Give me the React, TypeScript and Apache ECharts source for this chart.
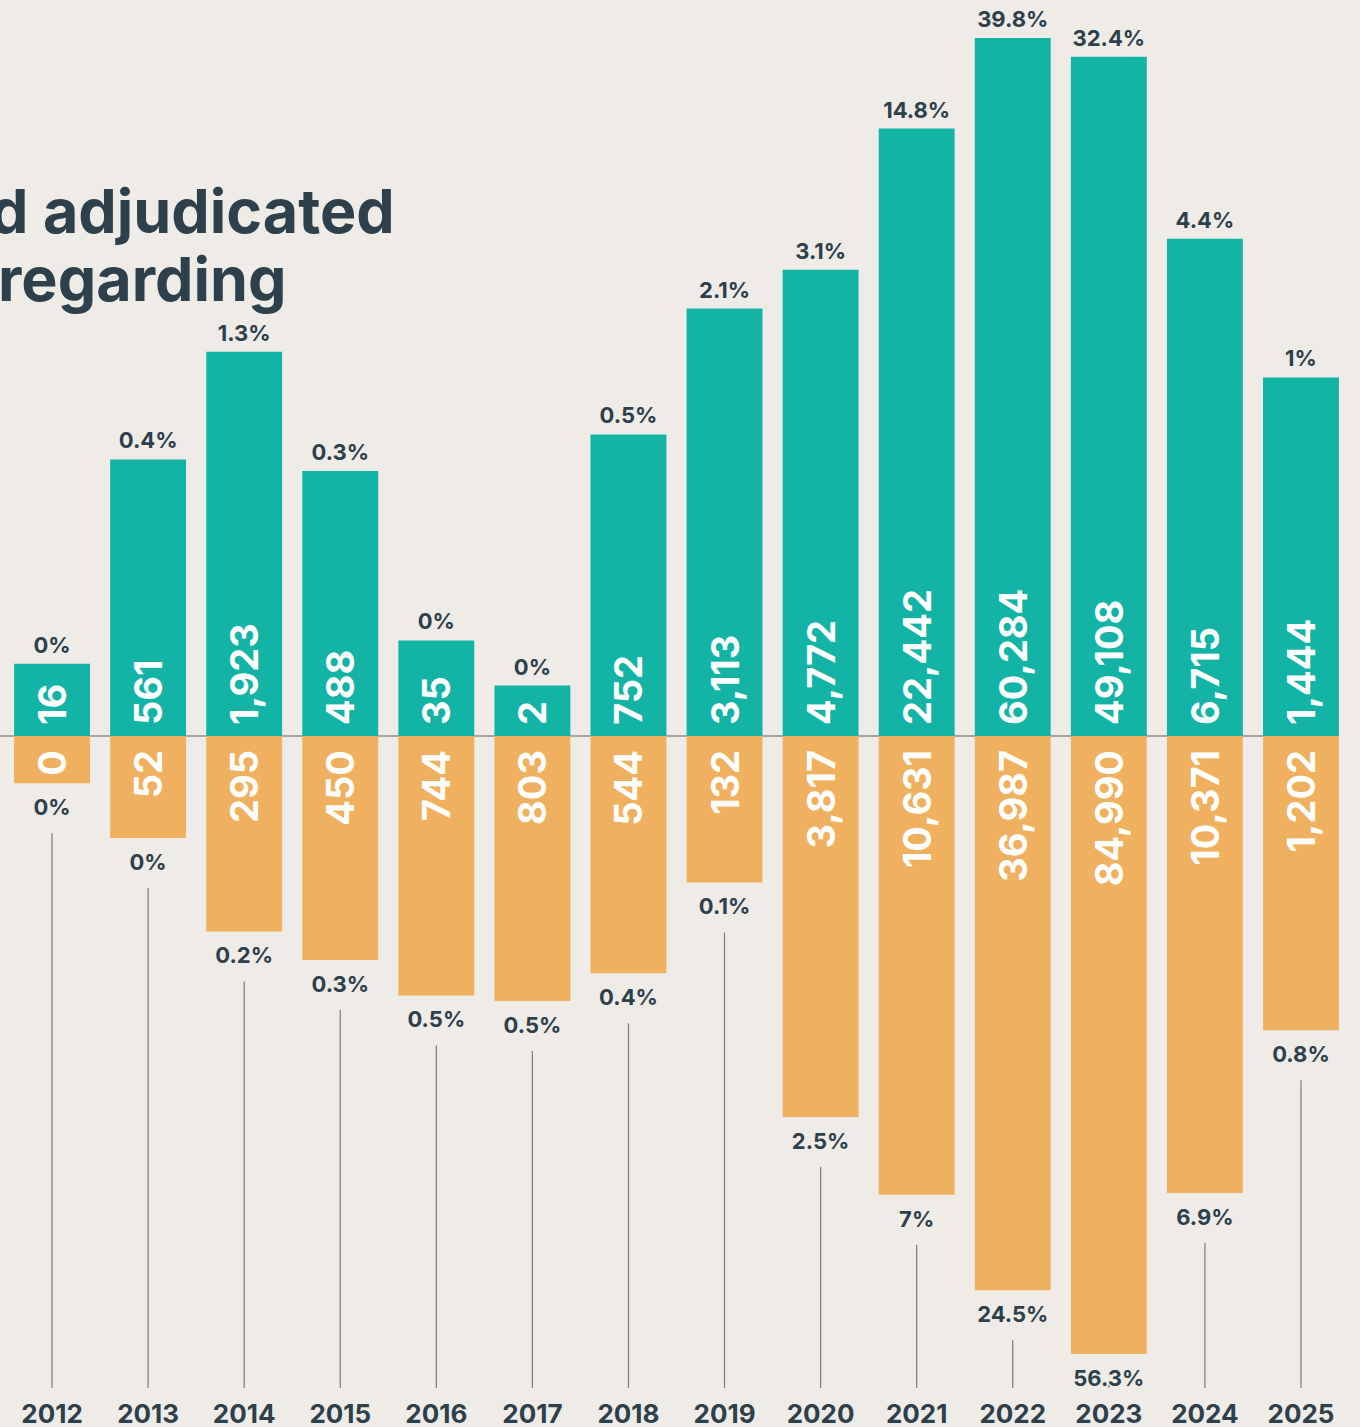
import React, { useEffect, useRef } from "react";
import * as echarts from "echarts";

// ---- data ----
const years = ["2012", "2013", "2014", "2015", "2016", "2017", "2018", "2019", "2020", "2021", "2022", "2023", "2024", "2025"];
const tealValues = [16, 561, 1923, 488, 35, 2, 752, 3113, 4772, 22442, 60284, 49108, 6715, 1444];
const tealPct = [0, 0.4, 1.3, 0.3, 0, 0, 0.5, 2.1, 3.1, 14.8, 39.8, 32.4, 4.4, 1];
const orangeValues = [0, 52, 295, 450, 744, 803, 544, 132, 3817, 10631, 36987, 84990, 10371, 1202];
const orangePct = [0, 0, 0.2, 0.3, 0.5, 0.5, 0.4, 0.1, 2.5, 7, 24.5, 56.3, 6.9, 0.8];
const titleLines = ["d adjudicated", "regarding"];

// pseudo-count for the shifted log scale, so that a zero can still be drawn
const OFFSET = 50;

// ---- styles ----
const BG = "#efece8";
const TEAL = "#13b3a6";
const ORANGE = "#efb15f";
const DARK = "#2d404b";
const FONT = "Inter, 'Noto Sans', sans-serif";
const BAR_RATIO = 0.79;

const fmt = (v: number) => v.toLocaleString("en-US");

export default function App() {
  const ref = useRef<HTMLDivElement>(null);

  useEffect(() => {
    if (!ref.current) return;
    const chart = echarts.init(ref.current, undefined, { renderer: "svg" });

    const tealItem = (params: any, api: any) => {
      const i = params.dataIndex;
      const cs = params.coordSys;
      const top = api.coord([api.value(0), api.value(1)]);
      const baseY = cs.y + cs.height;
      const w = (cs.width / years.length) * BAR_RATIO;
      const cx = top[0];
      return {
        type: "group",
        children: [
          { type: "rect", shape: { x: cx - w / 2, y: top[1], width: w, height: baseY - top[1] }, style: { fill: TEAL } },
          {
            type: "text",
            x: cx,
            y: baseY - 11,
            rotation: Math.PI / 2,
            style: { text: fmt(tealValues[i]), align: "left", verticalAlign: "middle", fill: "#ffffff", font: `bold 38px ${FONT}` },
          },
          {
            type: "text",
            x: cx,
            y: top[1] - 19,
            style: { text: tealPct[i] + "%", align: "center", verticalAlign: "middle", fill: DARK, font: `bold 22px ${FONT}` },
          },
        ],
      };
    };

    const orangeItem = (params: any, api: any) => {
      const i = params.dataIndex;
      const cs = params.coordSys;
      const bot = api.coord([api.value(0), api.value(1)]);
      const baseY = cs.y;
      const w = (cs.width / years.length) * BAR_RATIO;
      const cx = bot[0];
      const lineEnd = cs.y + cs.height + 34;
      const lineStart = Math.min(bot[1] + 50, lineEnd - 3);
      return {
        type: "group",
        children: [
          { type: "rect", shape: { x: cx - w / 2, y: baseY, width: w, height: bot[1] - baseY }, style: { fill: ORANGE } },
          {
            type: "text",
            x: cx,
            y: baseY + 14,
            rotation: Math.PI / 2,
            style: { text: fmt(orangeValues[i]), align: "right", verticalAlign: "middle", fill: "#ffffff", font: `bold 38px ${FONT}` },
          },
          {
            type: "text",
            x: cx,
            y: bot[1] + 24,
            style: { text: orangePct[i] + "%", align: "center", verticalAlign: "middle", fill: DARK, font: `bold 22px ${FONT}` },
          },
          {
            type: "line",
            shape: { x1: cx, y1: lineStart, x2: cx, y2: lineEnd },
            style: { stroke: "#7a7a7a", lineWidth: 1.2 },
          },
        ],
      };
    };

    const option: any = {
      animation: false,
      backgroundColor: BG,
      grid: [
        { left: 4, right: 11, top: 38, height: 698 },
        { left: 4, right: 11, top: 736, height: 618 },
      ],
      xAxis: [
        { type: "category", data: years, gridIndex: 0, show: false },
        {
          type: "category",
          data: years,
          gridIndex: 1,
          position: "bottom",
          axisLine: { show: false, onZero: false },
          axisTick: { show: false },
          splitLine: { show: false },
          axisLabel: { margin: 46, color: DARK, fontWeight: "bold", fontSize: 26, fontFamily: FONT },
        },
      ],
      yAxis: [
        { type: "log", gridIndex: 0, min: 30, max: Math.max(...tealValues) + OFFSET, show: false },
        { type: "log", gridIndex: 1, min: 27, max: Math.max(...orangeValues) + OFFSET, inverse: true, show: false },
      ],
      graphic: [
        {
          type: "line",
          z: 0,
          shape: { x1: 0, y1: 736, x2: 1339, y2: 736 },
          style: { stroke: "#a8a4a0", lineWidth: 2 },
        },
        {
          type: "text",
          x: -10,
          y: 211,
          style: { text: titleLines[0], align: "left", verticalAlign: "middle", fill: DARK, font: `bold 61px ${FONT}` },
        },
        {
          type: "text",
          x: -2,
          y: 279,
          style: { text: titleLines[1], align: "left", verticalAlign: "middle", fill: DARK, font: `bold 61px ${FONT}` },
        },
      ],
      series: [
        {
          type: "custom",
          name: "teal",
          xAxisIndex: 0,
          yAxisIndex: 0,
          z: 3,
          renderItem: tealItem,
          data: years.map((y, i) => [i, tealValues[i] + OFFSET]),
        },
        {
          type: "custom",
          name: "orange",
          xAxisIndex: 1,
          yAxisIndex: 1,
          z: 3,
          renderItem: orangeItem,
          data: years.map((y, i) => [i, orangeValues[i] + OFFSET]),
        },
      ],
    };

    chart.setOption(option);
    return () => chart.dispose();
  }, []);

  return <div ref={ref} style={{ position: "absolute", left: 0, top: 0, width: 1360, height: 1427 }} />;
}
